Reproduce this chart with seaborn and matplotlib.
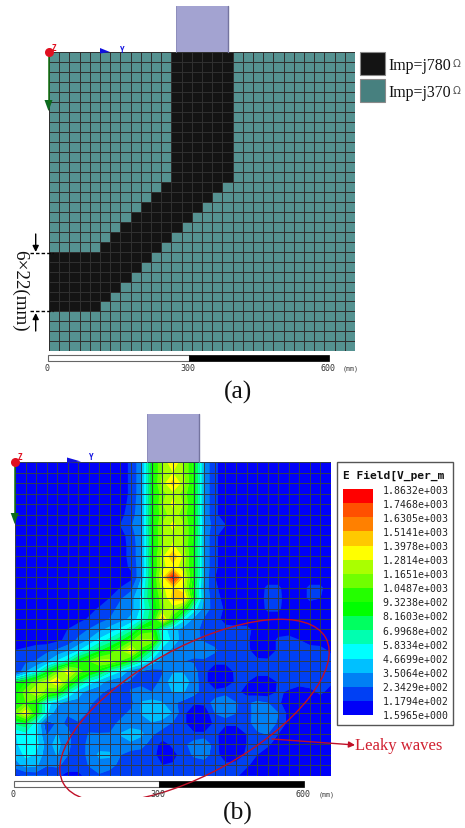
import numpy as np
import matplotlib
matplotlib.use("Agg")
import matplotlib.pyplot as plt
from matplotlib.colors import ListedColormap, BoundaryNorm
from matplotlib.patches import Rectangle, Ellipse, Polygon
import seaborn as sns

sns.set_theme(style="white")

# ---------- data ----------
n_cells = 30
strip_start = [12]*13 + [11, 10, 9, 8, 7, 6, 5, 0, 0, 0, 0, 0, 0]
strip_stop = [18]*13 + [17, 16, 15, 14, 13, 12, 11, 10, 9, 8, 7, 6, 5]

# E field at grid nodes, in tens of V/m
field_dv = [
 [6]*11 + [14,32,88,118,140,118,90,32,14] + [6]*11,
 [6]*11 + [14,32,88,118,128,118,90,32,14] + [6]*11,
 [6]*11 + [14,32,88,122,145,122,90,32,14] + [6]*11,
 [6]*11 + [14,32,88,112,125,112,90,32,14] + [6]*11,
 [6]*11 + [16,32,88,116,132,116,90,32,14] + [6]*11,
 [6]*10 + [8,18,32,88,112,122,112,90,32,14] + [6]*11,
 [6]*10 + [12,22,34,88,118,132,118,90,35,16,12] + [6]*10,
 [6]*11 + [18,32,86,118,125,118,90,32,14] + [6]*11,
 [6]*11 + [16,32,86,118,130,118,88,32,14] + [6]*11,
 [6]*11 + [16,32,88,125,150,125,88,32,14] + [6]*11,
 [6]*11 + [14,32,86,125,135,122,88,32,14] + [6]*11,
 [6]*11 + [8,36,86,135,186,135,88,32,12] + [6]*11,
 [6]*10 + [12,20,44,86,125,140,130,80,30,14,6,6,6,6,14,14,6,6,14,14,6],
 [6]*9 + [12,22,30,50,85,115,145,150,85,32,16,8,6,6,6,15,15,6,6,14,12,6],
 [6]*7 + [8,13,18,28,30,50,75,115,122,100,55,30,18,10,6,6,6,14,14,6,6,6,6,6],
 [6]*6 + [8,13,18,24,30,38,55,80,152,95,52,32,22,16,8] + [6]*10,
 [6,6,6,6,6,12,18,24,32,40,50,65,95,100,52,40,30,25,22,18,15,15,15,8,4,6,6,6,6,6,6],
 [6,6,6,6,9,15,26,36,50,62,78,100,120,118,60,42,30,26,22,18,16,16,14,6,4,14,16,12,6,6,6],
 [12,14,18,20,26,34,46,62,80,95,115,140,100,70,42,32,28,28,30,26,15,14,15,6,4,14,18,18,18,16,10],
 [16,20,24,34,48,62,88,105,122,122,105,85,62,45,30,25,24,22,22,16,16,18,20,14,14,16,12,16,18,18,16],
 [10,35,50,80,110,140,112,100,85,62,48,30,22,18,22,34,34,28,15,4,4,15,18,18,18,18,18,18,18,18,16],
 [82,92,110,125,145,108,80,55,42,30,26,22,20,16,28,42,42,30,15,4,4,14,13,4,4,13,18,18,18,18,14],
 [88,112,132,110,100,65,40,30,26,20,18,24,28,24,26,36,36,28,18,15,18,15,8,4,4,14,10,4,8,14,8],
 [90,105,92,52,40,30,32,26,20,16,16,20,36,40,36,26,20,14,15,30,36,24,20,28,24,14,6,5,5,6,5],
 [110,140,90,50,26,24,30,22,18,16,20,26,36,44,44,34,15,3,3,24,32,24,18,30,32,24,8,5,5,5,5],
 [72,78,52,14,26,22,22,20,18,20,26,28,30,34,30,22,15,3,3,15,14,14,20,28,30,22,8,5,5,5,5],
 [46,55,50,22,36,26,18,24,24,24,36,44,38,26,18,18,18,14,14,15,5,4,12,22,24,12,5,5,5,5,5],
 [44,55,52,30,40,26,18,26,30,28,30,32,28,18,8,14,20,30,36,16,4,4,12,15,14,6,5,5,5,5,5],
 [38,50,46,28,36,24,18,26,38,38,24,18,18,16,6,9,16,26,30,16,6,8,13,12,6,5,5,5,5,5,5],
 [30,40,38,24,26,18,18,24,30,28,20,16,16,16,12,13,15,16,16,16,14,14,14,6,5,5,5,5,5,5,5],
 [8,14,16,18,14,8,8,18,22,18,14,16,14,14,14,14,14,14,14,14,14,14,6,5,5,5,5,5,5,5,5],
]

level_labels = ["1.8632e+003","1.7468e+003","1.6305e+003","1.5141e+003","1.3978e+003",
                "1.2814e+003","1.1651e+003","1.0487e+003","9.3238e+002","8.1603e+002",
                "6.9968e+002","5.8334e+002","4.6699e+002","3.5064e+002","2.3429e+002",
                "1.1794e+002","1.5965e+000"]
band_colors = ["#0000f8","#0040f4","#0080f4","#00c0ff","#00ffff","#00ffb0","#00ff60","#00ff00",
               "#24ff00","#70ff00","#aaff00","#ffff00","#ffc800","#ff8000","#ff5000","#ff0000"]
legend_a = ["Imp=j780", "Imp=j370"]
swatch_a = ["#141414", "#47807f"]
scale_ticks = ["0", "300", "600"]

# ---------- figure ----------
W, H = 465, 829
fig = plt.figure(figsize=(W/100, H/100), dpi=100, facecolor="white")

def px_axes(x0, y0, x1, y1, **kw):
    return fig.add_axes([x0/W, 1 - y1/H, (x1-x0)/W, (y1-y0)/H], **kw)

# panel (a)
imp = np.zeros((n_cells, n_cells), dtype=int)
for row, (s, e) in enumerate(zip(strip_start, strip_stop)):
    imp[row, s:e] = 1
ax_a = px_axes(49, 53.3, 355, 352.3)
sns.heatmap(imp, ax=ax_a, mask=imp == 1, cmap=ListedColormap(["#559291"]), cbar=False,
            xticklabels=False, yticklabels=False, linewidths=0.72, linecolor="#35565a")
sns.heatmap(imp, ax=ax_a, mask=imp == 0, cmap=ListedColormap(["#141414"]), cbar=False,
            xticklabels=False, yticklabels=False, linewidths=0.72, linecolor="#303030")

# panel (b)
field = np.array(field_dv, dtype=float) * 10
levels = np.array([float(s) for s in level_labels[::-1]])
cmap_b = ListedColormap(band_colors)
norm_b = BoundaryNorm(levels, cmap_b.N)
ax_b = px_axes(15, 463.3, 330.7, 776.7)
sns.heatmap(field[:-1, :-1], ax=ax_b, cmap=cmap_b, norm=norm_b, cbar=False,
            xticklabels=False, yticklabels=False)
nx = np.arange(field.shape[1])
ny = np.arange(field.shape[0])
ax_b.contourf(nx, ny, field, levels=levels, cmap=cmap_b, norm=norm_b, zorder=2, antialiased=True)
for lines in (ax_b.hlines(ny, 0, n_cells, color="#2f3c50", lw=0.72, zorder=3),
              ax_b.vlines(nx, 0, n_cells, color="#2f3c50", lw=0.72, zorder=3)):
    lines.set_snap(True)
ax_b.set_xlim(0, n_cells)
ax_b.set_ylim(n_cells, 0)

# legend box (b)
box = fig.add_artist(Rectangle((337/W, 1-726/H), 115.5/W, 263/H, transform=fig.transFigure,
                               fc="white", ec="#555555", lw=1))
ax_c = px_axes(343.3, 490, 373.3, 716)
ax_c.set_zorder(3)
sns.heatmap(np.arange(len(band_colors))[::-1].reshape(-1, 1), ax=ax_c, cmap=cmap_b, cbar=False,
            xticklabels=False, yticklabels=False)

# overlay in pixel coordinates
ov = fig.add_axes([0, 0, 1, 1], zorder=5)
ov.set_xlim(0, W); ov.set_ylim(H, 0); ov.axis("off"); ov.patch.set_alpha(0)

MONO = "DejaVu Sans Mono"
SERIF = "Liberation Serif"

def port(x0, x1, y0, y1):
    ov.add_patch(Rectangle((x0, y0), x1-x0, y1-y0, fc="#a3a3d1", ec="none"))
    ov.plot([x1, x1], [y0, y1], color="#74749f", lw=1)
    ov.plot([x0, x0], [y0, y1], color="#8a8ab8", lw=0.6)

def triad(x, y, down_end, blue_x, y_label_x, y_label_y, wide_blue):
    ov.plot([x, x], [y, down_end-8], color="#107010", lw=1.1)
    ov.add_patch(Polygon([[x-4, down_end-11], [x+4, down_end-11], [x, down_end]], fc="#0c6a20", ec="none"))
    ov.add_patch(Polygon([[blue_x, y-4], [blue_x, y+1.5], [blue_x+wide_blue, y]], fc="#1010e0", ec="none"))
    ov.plot([x+0.5], [y], "o", ms=6.5, color="#e01020", mec="none")
    ov.text(x+5, y-5, "Z", color="#e01020", fontsize=5.5, family=MONO, ha="center", va="center", weight="bold")
    ov.text(y_label_x, y_label_y, "Y", color="#1010e0", fontsize=5.5, family=MONO, ha="center", va="center", weight="bold")

def scale(x0, xm, x1, y0, y1, ty, mm_x):
    ov.add_patch(Rectangle((x0, y0), xm-x0, y1-y0, fc="white", ec="#666666", lw=0.8))
    ov.add_patch(Rectangle((xm, y0), x1-xm, y1-y0, fc="black", ec="black", lw=0.5))
    for label, tx in zip(scale_ticks, (x0-1, xm-1, x1-1)):
        ov.text(tx, ty, label, family=MONO, fontsize=6, color="#333333", ha="center", va="center")
    ov.text(mm_x, ty, "(mm)", family=MONO, fontsize=4.8, color="#333333", ha="center", va="center")

port(176.3, 228, 6.7, 53.3)
port(147, 198.7, 415, 463.3)
triad(48.5, 53, 112, 100, 122.5, 50, 10)
triad(14.7, 462.5, 525, 67, 91, 458, 14)
scale(47.5, 188.7, 329, 355.7, 361.7, 368.5, 351)
scale(14.3, 159.3, 304, 781.7, 788.3, 795, 327)
ov.text(238, 392, "(a)", family=SERIF, fontsize=18.4, ha="center", va="center", color="#111111")
ov.text(238, 813, "(b)", family=SERIF, fontsize=18.4, ha="center", va="center", color="#111111")

# legend (a)
for label, color, y0, y1 in zip(legend_a, swatch_a, (52.7, 80), (76, 102.7)):
    ov.add_patch(Rectangle((360, y0), 25, y1-y0, fc=color, ec="#8a8a8a", lw=0.8))
    ym = (y0 + y1) / 2
    ov.text(388, ym+1.5, label, family=SERIF, fontsize=11.4, ha="left", va="center", color="#111111")
    ov.text(457, ym, "\u03a9", family="DejaVu Sans", fontsize=7.5, ha="center", va="center", color="#555555")

# dimension mark
ov.text(20, 291, "6\u00d722(mm)", family=SERIF, fontsize=13.8, rotation=-90, ha="center", va="center", color="#111111")
for yd in (254, 312):
    ov.plot([30, 53], [yd, yd], color="black", lw=1, ls=(0, (2.5, 1.5)))
ov.annotate("", xy=(35.7, 253), xytext=(35.7, 235), arrowprops=dict(arrowstyle="-|>", color="black", lw=1, shrinkA=0, shrinkB=0, mutation_scale=9))
ov.annotate("", xy=(35.7, 314), xytext=(35.7, 332), arrowprops=dict(arrowstyle="-|>", color="black", lw=1, shrinkA=0, shrinkB=0, mutation_scale=9))

# legend text (b)
ov.text(343, 476, "E Field[V_per_m", family=MONO, fontsize=8.1, weight="bold", ha="left", va="center", color="#111111")
for i, lab in enumerate(level_labels):
    ov.text(382.3, 490.7 + i*225.4/16, lab, family=MONO, fontsize=7.1, ha="left", va="center", color="#222222")

# leaky-wave annotation
ell = Ellipse((194.5, 711.5), 300, 126, angle=-29, fc="none", ec="#c01028", lw=1)
ov.add_patch(ell)
ell.set_clip_path(Rectangle((0, 0), W, 798, transform=ov.transData))
ov.annotate("", xy=(355, 746), xytext=(272, 740), arrowprops=dict(arrowstyle="-|>", color="#c01028", lw=1, shrinkA=0, shrinkB=0, mutation_scale=9))
ov.text(355, 746, "Leaky waves", family=SERIF, fontsize=12, color="#d02030", ha="left", va="center")

fig.savefig("out.png", dpi=100, facecolor="white")
